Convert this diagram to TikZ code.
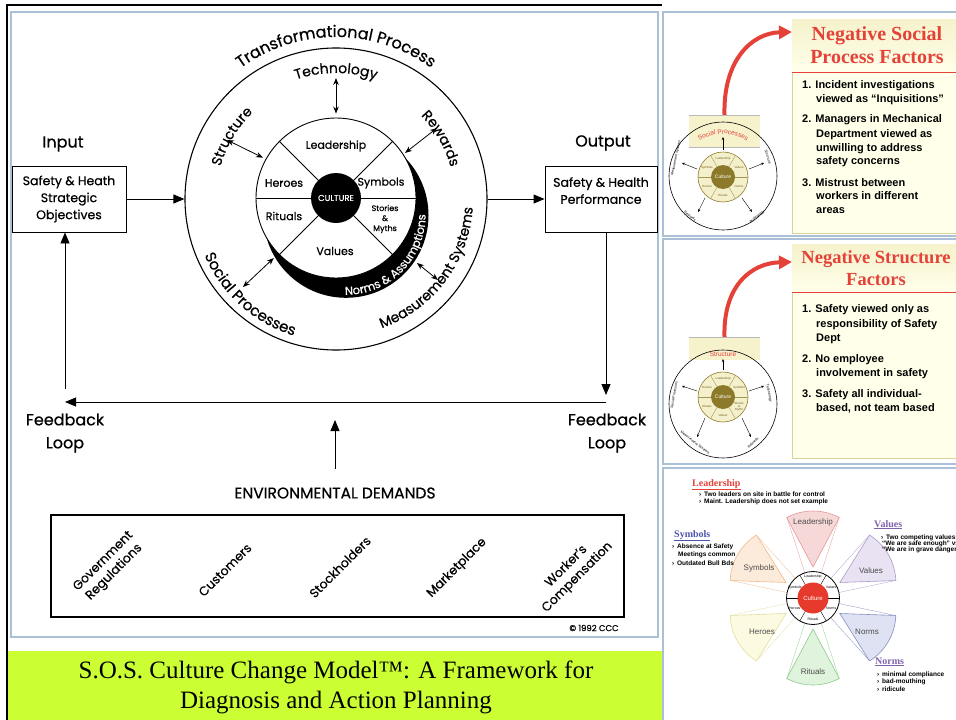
\documentclass[tikz,border=0pt]{standalone}
\usepackage{fontspec}
\setmainfont{Poppins}[FakeBold=0.6]
\newfontfamily\arialfont{Liberation Sans}
\newfontfamily\timesfont{Liberation Serif}
\usetikzlibrary{arrows.meta, decorations.text, positioning}

\definecolor{panelblue}{RGB}{170,192,214}
\definecolor{limegreen}{RGB}{204,255,51}
\definecolor{negred}{RGB}{228,66,56}
\definecolor{creamfill}{RGB}{255,255,234}
\definecolor{creamband}{RGB}{246,242,204}
\definecolor{creamedge}{RGB}{214,212,150}
\definecolor{olive}{RGB}{140,122,42}
\definecolor{olivetext}{RGB}{112,96,30}
\definecolor{ringcream}{RGB}{245,240,204}
\definecolor{symblue}{RGB}{78,84,170}
\definecolor{valpurple}{RGB}{128,98,172}
\definecolor{culred}{RGB}{229,58,44}
\definecolor{leadfill}{RGB}{247,216,216}
\definecolor{leadedge}{RGB}{232,150,150}
\definecolor{valfill}{RGB}{232,226,243}
\definecolor{valedge}{RGB}{170,155,202}
\definecolor{normfill}{RGB}{222,226,242}
\definecolor{normedge}{RGB}{132,142,192}
\definecolor{ritfill}{RGB}{224,243,220}
\definecolor{ritedge}{RGB}{140,202,140}
\definecolor{herfill}{RGB}{252,250,224}
\definecolor{heredge}{RGB}{228,220,160}
\definecolor{symfill}{RGB}{252,234,218}
\definecolor{symedge}{RGB}{240,186,142}

\newcommand{\fs}[1]{\fontsize{#1}{#1}\selectfont}

\tikzset{
  lbl/.style={font=\fontsize{16}{23}\selectfont, align=center},
  inlbl/.style={font=\fs{11}},
  sysbox/.style={draw, line width=0.9pt, align=center, font=\fontsize{12.5}{17}\selectfont, minimum width=114pt, minimum height=66pt, inner sep=1pt},
  flow/.style={-{Triangle[length=11pt,width=9pt]}, line width=0.9pt},
  dbl/.style={{Stealth[length=7pt,width=5.5pt]}-{Stealth[length=7pt,width=5.5pt]}, line width=0.8pt},
  panel/.style={draw=panelblue, line width=1.3pt},
  arctext/.style={decorate, decoration={text along path, text align=center, text={#1}}},
  demand/.style={rotate=45, align=center, font=\fontsize{12.5}{15.5}\selectfont},
  factor/.style={anchor=base west, inner sep=0pt, font=\arialfont\bfseries\fs{11}},
  factitle/.style={font=\timesfont\bfseries\fontsize{20}{23}\selectfont, text=negred, align=center},
  redarrow/.style={negred, line width=4pt, -{Triangle[length=13pt,width=13pt]}},
  mini/.style={inner sep=0pt, font=\arialfont\fs{3}, text=olivetext, align=center},
  minio/.style={inner sep=0pt, font=\arialfont\fs{3.5}},
  miniarrow/.style={-{Stealth[length=3pt,width=2.5pt]}, line width=0.4pt},
  note/.style={anchor=base west, inner sep=0pt, font=\arialfont\bfseries\fs{6.5}},
  notetitle/.style={anchor=base west, inner sep=0pt, font=\timesfont\bfseries\fs{10}},
  petal/.style={font=\arialfont\fs{8}, text=black!70},
}

\begin{document}
\begin{tikzpicture}[x=1pt, y=1pt]
  \useasboundingbox (0,0) rectangle (956,-720);
  % frames
  \draw[line width=1.8pt] (7,-720) -- (7,-5) -- (662,-5);
  \draw[panel] (11,-12) rectangle (658,-637);
  \fill[limegreen] (8,-651) rectangle (662,-720);
  \draw[panel] (663,-12) rectangle (960,-236);
  \draw[panel] (663,-239) rectangle (960,-464);
  \draw[panel] (663,-468) rectangle (960,-725);

  % transformational process
  \coordinate (tpc) at (336,-199);
  \node[circle, draw, line width=1.1pt, minimum size=302pt, inner sep=0pt] (tp) at (tpc) {};
  \fill (346,-215.3) circle (82.5);
  \node[circle, draw, fill=white, line width=0.9pt, minimum size=160pt, inner sep=0pt] (inr) at (336,-198) {};
  \draw[line width=0.8pt] (inr.west) -- (inr.east);
  \draw[line width=0.8pt] (inr.45) -- (inr.225);
  \draw[line width=0.8pt] (inr.135) -- (inr.315);
  \node[circle, fill=black, minimum size=50pt, inner sep=0pt, text=white, font=\fs{8.5}] (cul) at (inr) {CULTURE};
  \node[inlbl] (lead) at (336,-146) {Leadership};
  \node[inlbl] (hero) at (284,-183) {Heroes};
  \node[inlbl] (symb) at (381,-183) {Symbols};
  \node[inlbl] (ritu) at (284,-216) {Rituals};
  \node[font=\fontsize{8}{10}\selectfont, align=center] (stor) at (385,-219) {Stories\\\&\\Myths};
  \node[inlbl] (valu) at (335,-251) {Values};

  \path[arctext={|\fs{16}|Transformational Process}] (tpc) ++(160:162) arc[start angle=160, end angle=20, radius=162];
  \path[arctext={|\fs{14}|Technology}] (tpc) ++(150:126) arc[start angle=150, end angle=30, radius=126];
  \path[arctext={|\fs{14}|Structure}] (tpc) ++(184:120) arc[start angle=184, end angle=114, radius=120];
  \path[arctext={|\fs{14}|Rewards}] (tpc) ++(65:119) arc[start angle=65, end angle=-5, radius=119];
  \path[arctext={|\fs{15}|Social Processes}] (tpc) ++(188:143) arc[start angle=188, end angle=268, radius=143];
  \path[arctext={|\fs{14}|Measurement Systems}] (tpc) ++(273:137) arc[start angle=273, end angle=373, radius=137];
  \path[arctext={|\fs{11.5}\color{white}|Norms {\&} Assumptions}] (346,-215.3) ++(245:79.5) arc[start angle=245, end angle=385, radius=79.5];

  \coordinate (techo) at (336,-78);
  \coordinate (struo) at (227,-140);
  \coordinate (rewo) at (437,-128);
  \coordinate (soco) at (243,-287);
  \coordinate (measi) at (417,-263);
  \coordinate (measo) at (438,-280);
  \draw[dbl, shorten >=4pt] (techo) -- (inr.90);
  \draw[dbl, shorten >=3pt] (struo) -- (inr.151);
  \draw[dbl, shorten >=2pt] (rewo) -- (inr.33);
  \draw[dbl, shorten >=6pt] (soco) -- (inr.224);
  \draw[dbl] (measo) -- (measi);

  % input and output
  \node[lbl] (input) at (63,-144) {Input};
  \node[sysbox] (inbox) at (69,-199) {Safety \& Heath\\Strategic\\Objectives};
  \node[lbl] (output) at (603,-143) {Output};
  \node[sysbox, minimum width=112pt] (outbox) at (601,-199) {Safety \& Health\\Performance\\\mbox{}};
  \draw[flow] (inbox) -- (tp);
  \draw[flow] (tp) -- (outbox);

  % feedback loop
  \coordinate (fbR) at (606,-395);
  \coordinate (fbR2) at (606,-402);
  \coordinate (fbL) at (65,-402);
  \coordinate (fbUp) at (65,-389);
  \draw[flow] (outbox.south -| fbR) -- (fbR);
  \draw[flow] (fbR2) -- (fbL);
  \draw[flow] (fbUp) -- (fbUp |- inbox.south);
  \node[lbl] (fbl) at (65,-433) {Feedback\\Loop};
  \node[lbl] (fbr) at (607,-433) {Feedback\\Loop};

  % environmental demands
  \node[font=\fs{15.5}] (env) at (335,-493) {ENVIRONMENTAL DEMANDS};
  \coordinate (envtip) at (335,-420);
  \draw[flow, shorten <=15pt] (env.north) -- (envtip);
  \node[draw, line width=1.2pt, minimum width=573pt, minimum height=102pt] (dem) at (337.5,-566) {};
  \node[demand] (gov) at (109,-567) {Government\\Regulations};
  \node[demand] (cust) at (225,-570) {Customers};
  \node[demand] (stock) at (340,-567) {Stockholders};
  \node[demand] (mkt) at (457,-568) {Marketplace};
  \node[demand] (work) at (572,-572) {Worker's\\Compensation};
  \node[font=\fs{8.5}] (copy) at (594,-628) {© 1992 CCC};

  % caption
  \node[font=\timesfont\fontsize{25}{30}\selectfont, align=center] (cap) at (336,-687) {S.O.S. Culture Change Model™: A Framework for\\Diagnosis and Action Planning};

  % panel 1: social process factors
  \filldraw[fill=creamfill, draw=creamedge, line width=0.8pt] (792,-19) rectangle (960,-233);
  \shade[top color=creamband, bottom color=creamfill] (792.4,-19.4) rectangle (960,-72);
  \draw[negred, line width=0.8pt] (792,-72) -- (960,-72);
  \node[factitle] (t1) at (877,-45) {Negative Social\\Process Factors};
  \foreach \lx/\ly/\lt in {802/88/{1. Incident investigations}, 816/102/{viewed as “Inquisitions”},
      802/122/{2. Managers in Mechanical}, 816/137/{Department viewed as}, 816/151/{unwilling to address}, 816/164/{safety concerns},
      802/186/{3. Mistrust between}, 816/199/{workers in different}, 816/213/{areas}}
    \node[factor] (fa-\ly) at (\lx,-\ly) {\lt};

  \node[fill=creamband, minimum width=71pt, minimum height=32pt, inner sep=0pt] (band1) at (724.5,-131) {};
  \draw[gray!55, line width=0.6pt] (band1.north west) -- (band1.north east) (band1.south west) -- (band1.south east);
  \coordinate (tip1) at (792,-32);
  \draw[redarrow] (band1.north) .. controls (723,-60) and (752,-33) .. (tip1);
  \begin{scope}[shift={(723,-177)}]
    \draw[line width=0.6pt] (0,1) circle (54);
    \path[arctext={|\color{negred}\arialfont\fs{6.5}|Social Processes}] (0,0) ++(140:43) arc[start angle=140, end angle=40, radius=43];
    \draw[miniarrow, {Stealth[length=3pt,width=2.5pt]}-] (0,40) -- (0,27);
    \filldraw[fill=ringcream, draw=olive, line width=0.6pt] (0,0) circle (25);
    \foreach \a in {0,60,...,300} \draw[olive!80, line width=0.4pt] (\a:12) -- (\a:25);
    \node[circle, fill=olive, minimum size=24pt, inner sep=0pt, text=white, font=\arialfont\fs{5}] (cul1) at (0,0) {Culture};
    \foreach \a/\t in {90/Leadership, 150/Symbols, 30/Values, 210/Heroes, 330/Norms, 270/Rituals}
      \node[mini] (ra-\a) at (\a:18.5) {\t};
    \draw[miniarrow] (-26,8) -- (-41,14);
    \draw[miniarrow] (26,8) -- (41,14);
    \draw[miniarrow] (-18,-21) -- (-25,-35);
    \draw[miniarrow] (19,-21) -- (29,-35);
    \node[minio, rotate=78] (oa1) at (-47,19) {Measurement Systems};
    \node[minio, rotate=-72] (oa2) at (45,20) {Structure};
    \node[minio, rotate=-38] (oa3) at (-33,-39) {Rewards};
    \node[minio, rotate=38] (oa4) at (34,-40) {Technology};
  \end{scope}

  % panel 2: structure factors
  \filldraw[fill=creamfill, draw=creamedge, line width=0.8pt] (792,-244) rectangle (960,-458);
  \shade[top color=creamband, bottom color=creamfill] (792.4,-244.4) rectangle (960,-292);
  \draw[negred, line width=0.8pt] (792,-292) -- (960,-292);
  \node[factitle, font=\timesfont\bfseries\fontsize{18.5}{22}\selectfont] (t2) at (876,-268) {Negative Structure\\Factors};
  \foreach \lx/\ly/\lt in {802/312/{1. Safety viewed only as}, 816/327/{responsibility of Safety}, 816/341/{Dept},
      802/362/{2. No employee}, 816/376/{involvement in safety},
      802/397/{3. Safety all individual-}, 816/411/{based, not team based}}
    \node[factor] (fb-\ly) at (\lx,-\ly) {\lt};

  \node[fill=creamband, minimum width=71pt, minimum height=23pt, inner sep=0pt] (band2) at (724.5,-348.5) {};
  \draw[gray!55, line width=0.6pt] (band2.north west) -- (band2.north east);
  \coordinate (tip2) at (792,-262);
  \draw[redarrow] (band2.north) .. controls (723,-285) and (752,-263) .. (tip2);
  \begin{scope}[shift={(723,-397)}]
    \draw[line width=0.6pt] (0,-7) circle (54);
    \node[inner sep=0pt, text=negred, font=\arialfont\fs{6.5}] (st2) at (0,43) {Structure};
    \draw[miniarrow, {Stealth[length=3pt,width=2.5pt]}-] (0,38) -- (0,27);
    \filldraw[fill=ringcream, draw=olive, line width=0.6pt] (0,0) circle (25);
    \foreach \a in {0,60,...,300} \draw[olive!80, line width=0.4pt] (\a:12) -- (\a:25);
    \node[circle, fill=olive, minimum size=24pt, inner sep=0pt, text=white, font=\arialfont\fs{5}] (cul2) at (0,0) {Culture};
    \foreach \a/\t in {90/Leadership, 150/Heroes, 30/Symbols, 210/Rituals, 330/{Stories\\\&\\Myths}, 270/Values}
      \node[mini] (rb-\a) at (\a:18.5) {\t};
    \draw[miniarrow] (-26,6) -- (-41,11);
    \draw[miniarrow] (26,6) -- (41,11);
    \draw[miniarrow] (-18,-21) -- (-26,-40);
    \draw[miniarrow] (19,-21) -- (28,-40);
    \node[minio, rotate=80] (ob1) at (-49,2) {Social Processes};
    \node[minio, rotate=-78] (ob2) at (46,4) {Technology};
    \node[minio, rotate=-38] (ob3) at (-28,-46) {Measurement Systems};
    \node[minio, rotate=45] (ob4) at (30,-46) {Rewards};
  \end{scope}

  % panel 3: culture flower
  \begin{scope}[shift={(813,-598)}]
    \foreach \a/\pf/\pe in {90/leadfill/leadedge, 30/valfill/valedge, -30/normfill/normedge, -90/ritfill/ritedge, -150/herfill/heredge, 150/symfill/symedge} {
      \draw[\pe, line width=0.3pt] (0,0) -- (\a-18:84.6) (0,0) -- (\a+18:84.6);
      \filldraw[fill=\pf, draw=\pe, line width=0.6pt] (\a:31) -- ++(\a-28:56) arc[start angle=\a-28, end angle=\a+28, radius=56] -- cycle;
    }
    \node[petal] (pl) at (0,76) {Leadership};
    \node[petal] (pv) at (58,27) {Values};
    \node[petal] (pn) at (54,-34) {Norms};
    \node[petal] (pr) at (0,-74) {Rituals};
    \node[petal] (ph) at (-51,-34) {Heroes};
    \node[petal] (ps) at (-54,30) {Symbols};
    \filldraw[fill=white, draw=black, line width=0.8pt] (0,0) circle (26.5);
    \foreach \a in {0,60,...,300} \draw[line width=0.4pt] (\a:15) -- (\a:26.5);
    \node[circle, fill=culred, minimum size=31pt, inner sep=0pt, text=white, font=\arialfont\fs{6}] (cul3) at (0,0) {Culture};
    \foreach \a/\t in {90/Leadership, 150/Symbols, 30/Values, 210/Heroes, 330/Norms, 270/Rituals}
      \node[mini, text=black, font=\arialfont\fs{3.5}] (rc-\a) at (\a:21) {\t};
  \end{scope}

  \node[notetitle, text=negred] (nl) at (692,-486) {\underline{Leadership}};
  \node[note] (nl1) at (699,-496) {› \hspace{1pt}Two leaders on site in battle for control};
  \node[note] (nl2) at (699,-503) {› \hspace{1pt}Maint. Leadership does not set example};
  \node[notetitle, text=symblue] (ns) at (674,-537) {\underline{Symbols}};
  \node[note] (ns1) at (672,-548) {› \hspace{1pt}Absence at Safety};
  \node[note] (ns2) at (678,-556) {Meetings common};
  \node[note] (ns3) at (672,-565) {› \hspace{1pt}Outdated Bull Bds};
  \node[notetitle, text=valpurple] (nv) at (874,-527) {\underline{Values}};
  \node[note] (nv1) at (881,-539) {› \hspace{1pt}Two competing values:};
  \node[note] (nv2) at (882,-545) {“We are safe enough” vs.};
  \node[note] (nv3) at (882,-551) {“We are in grave danger”};
  \node[notetitle, text=valpurple] (nn) at (875,-664) {\underline{Norms}};
  \node[note] (nn1) at (877,-676) {› \hspace{1pt}minimal compliance};
  \node[note] (nn2) at (877,-683) {› \hspace{1pt}bad-mouthing};
  \node[note] (nn3) at (877,-691) {› \hspace{1pt}ridicule};
\end{tikzpicture}
\end{document}
